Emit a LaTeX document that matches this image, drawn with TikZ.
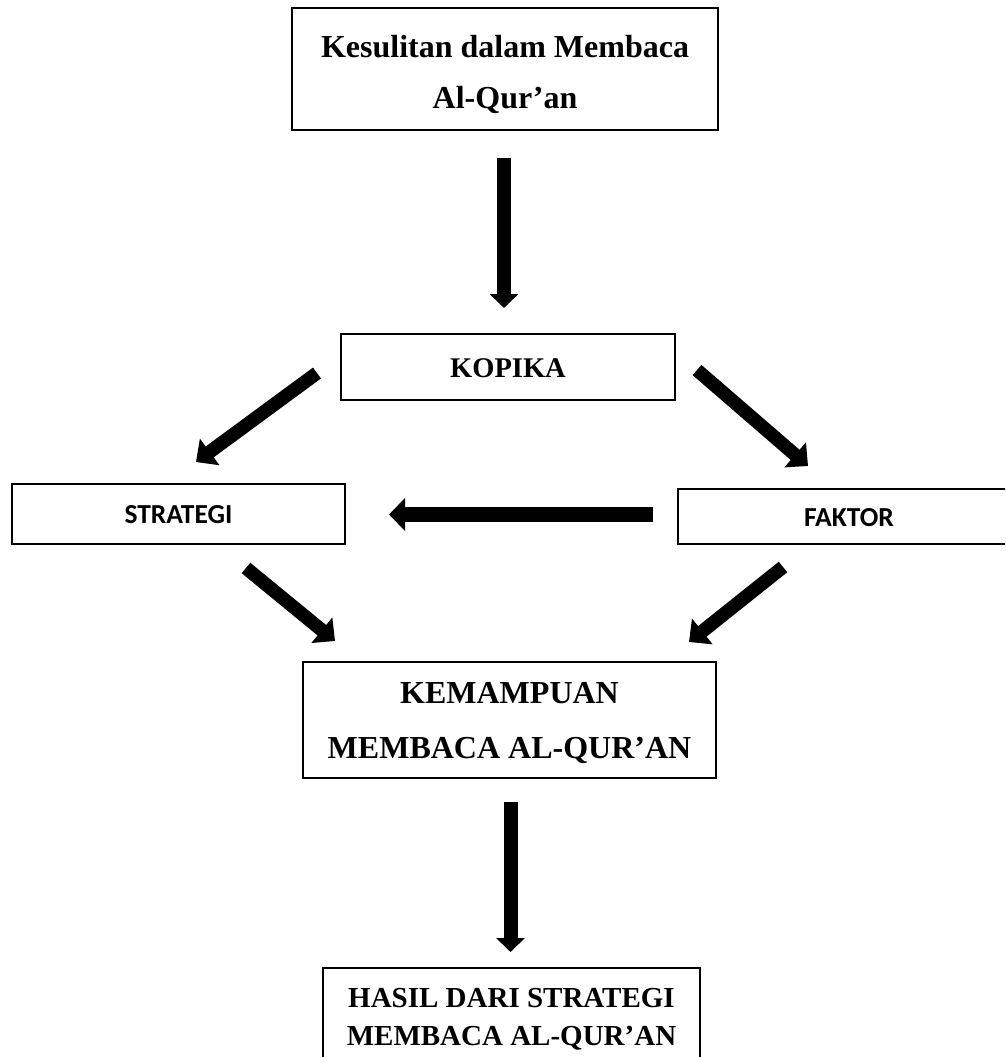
\documentclass[tikz,border=0pt]{standalone}
\usepackage{fontspec}
\setmainfont{Liberation Serif}
\newfontfamily\calibrifont{Carlito}
\usetikzlibrary{arrows.meta}
\tikzset{
  boxnode/.style={draw, line width=2pt, inner sep=0pt},
  serifbig/.style={anchor=base, inner sep=0pt, font=\fontsize{32}{38}\selectfont\bfseries},
  serifmid/.style={anchor=base, inner sep=0pt, font=\fontsize{29}{34}\selectfont\bfseries},
  serifkop/.style={anchor=base, inner sep=0pt, font=\fontsize{28.5}{34}\selectfont\bfseries},
  sanslabel/.style={anchor=base, inner sep=0pt, font=\fontsize{27.5}{33}\selectfont\calibrifont\bfseries},
  vblock/.style={line width=14pt, -{Triangle[width=28pt,length=14pt]}},
  dblock/.style={line width=13.5pt, -{Triangle[width=32pt,length=17pt]}},
  hblock/.style={line width=15pt, -{Triangle[width=32pt,length=16pt]}}
}
\begin{document}
\begin{tikzpicture}[x=1pt, y=-1pt]
\clip (0,0) rectangle (1005,1057);
\fill[white] (0,0) rectangle (1005,1057);

% boxes
\node[boxnode, minimum width=426pt, minimum height=122pt] (top) at (505,69) {};
\node[serifbig] (topA) at (505,58) {Kesulitan dalam Membaca};
\node[serifbig] (topB) at (505,108) {Al-Qur’an};

\node[boxnode, minimum width=334pt, minimum height=66pt] (kopika) at (508,367) {};
\node[serifkop] (kopikaT) at (508,377) {KOPIKA};

\node[boxnode, minimum width=333pt, minimum height=60pt] (strategi) at (178.5,514) {};
\node[sanslabel] (strategiT) at (178.5,523) {STRATEGI};

\node[boxnode, minimum width=342pt, minimum height=55pt] (faktor) at (849,516.5) {};
\node[sanslabel] (faktorT) at (849,526) {FAKTOR};

\node[boxnode, minimum width=413pt, minimum height=116pt] (kemampuan) at (509.5,720) {};
\node[serifbig] (kemA) at (509.5,703) {KEMAMPUAN};
\node[serifbig] (kemB) at (509.5,758) {MEMBACA AL-QUR’AN};

\node[boxnode, minimum width=377pt, minimum height=112pt] (hasil) at (511.5,1024) {};
\node[serifmid] (hasilA) at (511.5,1007) {HASIL DARI STRATEGI};
\node[serifmid] (hasilB) at (511.5,1045) {MEMBACA AL-QUR’AN};

% arrow end points
\coordinate (a1s) at (504,158);   \coordinate (a1e) at (504,308);
\coordinate (a2s) at (317,373);   \coordinate (a2e) at (196,462);
\coordinate (a3s) at (697,370);   \coordinate (a3e) at (808,466);
\coordinate (a4s) at (653,514.5); \coordinate (a4e) at (389,514.5);
\coordinate (a5s) at (246,568);   \coordinate (a5e) at (335,641);
\coordinate (a6s) at (783,567);   \coordinate (a6e) at (689,642);
\coordinate (a7s) at (510.5,802); \coordinate (a7e) at (510.5,952);

\draw[vblock] (a1s) -- (a1e);
\draw[dblock] (a2s) -- (a2e);
\draw[dblock] (a3s) -- (a3e);
\draw[hblock] (a4s) -- (a4e);
\draw[dblock] (a5s) -- (a5e);
\draw[dblock] (a6s) -- (a6e);
\draw[vblock] (a7s) -- (a7e);
\end{tikzpicture}
\end{document}
